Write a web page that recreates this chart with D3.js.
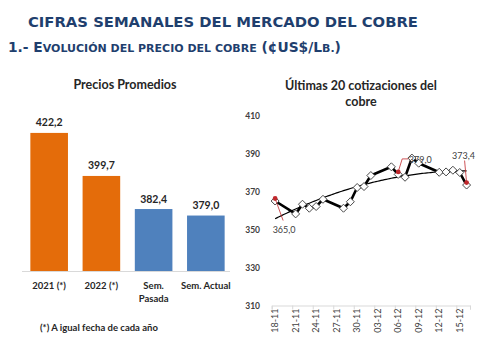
<!DOCTYPE html>
<html>
<head>
<meta charset="utf-8">
<script src="https://cdn.jsdelivr.net/npm/d3@7"></script>
<style>
  body { margin: 0; background: #fff; }
  svg { display: block; }
</style>
</head>
<body>
<div id="chart"></div>
<script>
// Average prices (left panel)
var categories = ["2021 (*)", "2022 (*)", "Sem.\nPasada", "Sem. Actual"];
var avgPrices = [422.2, 399.7, 382.4, 379.0];

// Last daily quotes (right panel), dd-mm of 2022
var quoteDates = ["18-11", "21-11", "22-11", "23-11", "24-11", "25-11", "28-11", "29-11", "30-11",
                  "01-12", "02-12", "05-12", "06-12", "07-12", "08-12", "09-12",
                  "12-12", "13-12", "14-12", "15-12", "16-12"];
var quotePrices = [365.0, 358.2, 363.3, 361.2, 362.1, 365.9, 361.2, 364.6, 372.1,
                   372.6, 378.4, 383.0, 379.0, 377.5, 387.6, 384.9,
                   380.1, 380.3, 381.2, 380.0, 373.4];
var tickDates = ["18-11", "21-11", "24-11", "27-11", "30-11", "03-12", "06-12", "09-12", "12-12", "15-12"];
var yTicks = [310, 330, 350, 370, 390, 410];
var labelledDates = ["18-11", "06-12", "16-12"];

var width = 489, height = 347;
var navy = "#1F3F6E";
var dark = "#262626";
var font = "Lato, 'Open Sans', sans-serif";
var headFont = "'DejaVu Sans', Verdana, sans-serif";

var svg = d3.select("#chart").append("svg")
    .attr("width", width)
    .attr("height", height);

svg.append("rect").attr("width", width).attr("height", height).attr("fill", "#fff");

// Headings
svg.append("text")
    .attr("x", 28).attr("y", 27)
    .attr("font-family", headFont)
    .attr("font-weight", "bold")
    .attr("font-size", 14.8)
    .attr("fill", navy)
    .text("CIFRAS SEMANALES DEL MERCADO DEL COBRE");

// subtitle in small caps: capitals full size, the rest as smaller capitals
var subParts = [["1.- E", 1], ["VOLUCIÓN DEL PRECIO DEL COBRE", 0], [" (¢US$/L", 1], ["B.", 0], [")", 1]];
svg.append("text")
    .attr("x", 8).attr("y", 51.5)
    .attr("font-family", headFont)
    .attr("font-weight", "bold")
    .attr("fill", navy)
    .selectAll("tspan")
    .data(subParts)
    .enter().append("tspan")
    .attr("font-size", function(d) { return d[1] ? 13.8 : 11; })
    .text(function(d) { return d[0]; });

// ---------- Left panel: bar chart ----------
var xBand = d3.scaleBand()
    .domain(categories)
    .range([22, 233])
    .paddingInner(0.28)
    .paddingOuter(0.16);

var yBar = d3.scaleLinear()
    .domain([350, 430])
    .range([271, 118]);

var left = svg.append("g");

left.append("text")
    .attr("x", 125).attr("y", 88.5)
    .attr("text-anchor", "middle")
    .attr("font-family", font).attr("font-weight", "bold").attr("font-size", 12.5)
    .attr("fill", dark)
    .text("Precios Promedios");

left.selectAll("rect.bar")
    .data(avgPrices)
    .enter().append("rect")
    .attr("class", "bar")
    .attr("x", function(d, i) { return xBand(categories[i]); })
    .attr("y", function(d) { return yBar(d); })
    .attr("width", xBand.bandwidth())
    .attr("height", function(d) { return yBar(350) - yBar(d); })
    .attr("fill", function(d, i) { return i < 2 ? "#E46C0A" : "#4F81BD"; });

// value labels above bars
left.selectAll("text.val")
    .data(avgPrices)
    .enter().append("text")
    .attr("class", "val")
    .attr("x", function(d, i) { return xBand(categories[i]) + xBand.bandwidth() / 2; })
    .attr("y", function(d) { return yBar(d) - 6.5; })
    .attr("text-anchor", "middle")
    .attr("font-family", font).attr("font-weight", "bold").attr("font-size", 10.5)
    .attr("fill", dark)
    .text(function(d) { return d3.format(".1f")(d).replace(".", ","); });

// baseline
left.append("line")
    .attr("x1", 22).attr("x2", 230)
    .attr("y1", yBar(350) + 0.5).attr("y2", yBar(350) + 0.5)
    .attr("stroke", "#d9d9d9");

// category labels, wrapped on "\n"
categories.forEach(function(c) {
    var t = left.append("text")
        .attr("x", xBand(c) + xBand.bandwidth() / 2)
        .attr("y", 288.5)
        .attr("text-anchor", "middle")
        .attr("font-family", font).attr("font-weight", "bold").attr("font-size", 9.5)
        .attr("fill", dark);
    c.split("\n").forEach(function(line, k) {
        t.append("tspan")
            .attr("x", xBand(c) + xBand.bandwidth() / 2)
            .attr("dy", k === 0 ? 0 : 13)
            .text(line);
    });
});

left.append("text")
    .attr("x", 40).attr("y", 330.5)
    .attr("font-family", font).attr("font-weight", "bold").attr("font-size", 9.5)
    .attr("fill", dark)
    .text("(*) A igual fecha de cada año");

// ---------- Right panel: daily quotes ----------
var parseDay = function(s) { return d3.timeParse("%d-%m-%Y")(s + "-2022"); };
var quotes = quoteDates.map(function(s, i) {
    return { date: parseDay(s), key: s, value: quotePrices[i] };
});

var firstDay = parseDay(quoteDates[0]);
var endDay = d3.timeDay.offset(parseDay(quoteDates[quoteDates.length - 1]), 1);
var noon = function(d) { return d3.timeHour.offset(d, 12); };

var xTime = d3.scaleTime()
    .domain([firstDay, endDay])
    .range([271.7, 470]);

var yLine = d3.scaleLinear()
    .domain([310, 410])
    .range([305.5, 115.5]);

var right = svg.append("g");

right.append("text")
    .attr("text-anchor", "middle")
    .attr("font-family", font).attr("font-weight", "bold").attr("font-size", 12.5)
    .attr("fill", dark)
    .selectAll("tspan")
    .data(["Últimas 20 cotizaciones del", "cobre"])
    .enter().append("tspan")
    .attr("x", 361)
    .attr("y", function(d, i) { return 89.5 + i * 16.5; })
    .text(function(d) { return d; });

// y labels (no axis line)
right.selectAll("text.ytick")
    .data(yTicks)
    .enter().append("text")
    .attr("class", "ytick")
    .attr("x", 260)
    .attr("y", function(d) { return yLine(d) + 3; })
    .attr("text-anchor", "end")
    .attr("font-family", font).attr("font-weight", "bold").attr("font-size", 8.5)
    .attr("fill", "#404040")
    .text(function(d) { return d; });

// x axis: tick marks at day starts, labels centred on the day
var xAxis = right.append("g")
    .attr("transform", "translate(0," + yLine(310) + ")")
    .call(d3.axisBottom(xTime)
        .tickValues(tickDates.map(parseDay).concat([endDay]))
        .tickSize(4)
        .tickFormat(""));
xAxis.select(".domain").attr("stroke", "#d9d9d9");
xAxis.selectAll(".tick line").attr("stroke", "#d9d9d9");

right.selectAll("text.xtick")
    .data(tickDates)
    .enter().append("text")
    .attr("class", "xtick")
    .attr("transform", function(d) {
        return "translate(" + (xTime(noon(parseDay(d))) + 3) + "," + (yLine(310) + 3) + ") rotate(-90)";
    })
    .attr("text-anchor", "end")
    .attr("font-family", font).attr("font-size", 9)
    .attr("fill", "#404040")
    .text(function(d) { return d; });

// quadratic trend fitted on day index
var dayIdx = quotes.map(function(q) { return d3.timeDay.count(firstDay, q.date); });
function quadFit(xs, ys) {
    var s = [0, 0, 0, 0, 0], t = [0, 0, 0];
    xs.forEach(function(x, i) {
        for (var p = 0; p < 5; p++) s[p] += Math.pow(x, p);
        for (var q = 0; q < 3; q++) t[q] += ys[i] * Math.pow(x, q);
    });
    var m = [[s[0], s[1], s[2], t[0]], [s[1], s[2], s[3], t[1]], [s[2], s[3], s[4], t[2]]];
    for (var c = 0; c < 3; c++) {
        for (var r = c + 1; r < 3; r++) {
            var f = m[r][c] / m[c][c];
            for (var k = c; k < 4; k++) m[r][k] -= f * m[c][k];
        }
    }
    var b = [0, 0, 0];
    for (var r2 = 2; r2 >= 0; r2--) {
        var sum = m[r2][3];
        for (var k2 = r2 + 1; k2 < 3; k2++) sum -= m[r2][k2] * b[k2];
        b[r2] = sum / m[r2][r2];
    }
    return b;
}
var coef = quadFit(dayIdx, quotePrices);
var trendPts = d3.range(dayIdx[0], dayIdx[dayIdx.length - 1] + 0.01, 0.25).map(function(x) {
    return [xTime(noon(d3.timeHour.offset(firstDay, x * 24))), yLine(coef[0] + coef[1] * x + coef[2] * x * x)];
});

right.append("path")
    .attr("d", d3.line()(trendPts))
    .attr("fill", "none")
    .attr("stroke", "#000")
    .attr("stroke-width", 1.2);

var line = d3.line()
    .x(function(d) { return xTime(noon(d.date)); })
    .y(function(d) { return yLine(d.value); });

right.append("path")
    .datum(quotes)
    .attr("d", line)
    .attr("fill", "none")
    .attr("stroke", "#000")
    .attr("stroke-width", 2.6)
    .attr("stroke-linejoin", "round");

// diamond markers
right.selectAll("path.mk")
    .data(quotes)
    .enter().append("path")
    .attr("class", "mk")
    .attr("d", d3.symbol().type(d3.symbolSquare).size(32))
    .attr("transform", function(d) {
        return "translate(" + xTime(noon(d.date)) + "," + yLine(d.value) + ") rotate(45)";
    })
    .attr("fill", "#fff")
    .attr("stroke", "#404040")
    .attr("stroke-width", 0.9);

// data labels with red leader lines
var leaderOffsets = {
    "18-11": { lx: 9, ly: 31, path: [[0, 0], [8, 22]] },
    "06-12": { lx: 22, ly: -12, path: [[0, 0], [4, -13], [10, -13]] },
    "16-12": { lx: -3, ly: -27, path: [[0, 0], [-2, -22]] }
};
var redDark = "#C0282D";
quotes.filter(function(q) { return labelledDates.indexOf(q.key) >= 0; }).forEach(function(q) {
    var px = xTime(noon(q.date)), py = yLine(q.value) - 2.5;
    var o = leaderOffsets[q.key];
    right.append("path")
        .attr("d", d3.line()(o.path.map(function(p) { return [px + p[0], py + p[1]]; })))
        .attr("fill", "none")
        .attr("stroke", redDark)
        .attr("stroke-width", 0.8);
    right.append("circle")
        .attr("cx", px).attr("cy", py).attr("r", 2.4)
        .attr("fill", redDark);
    right.append("text")
        .attr("x", px + o.lx).attr("y", py + o.ly + 3)
        .attr("text-anchor", "middle")
        .attr("font-family", font).attr("font-size", 9)
        .attr("fill", "#404040")
        .text(d3.format(".1f")(q.value).replace(".", ","));
});
</script>
</body>
</html>
